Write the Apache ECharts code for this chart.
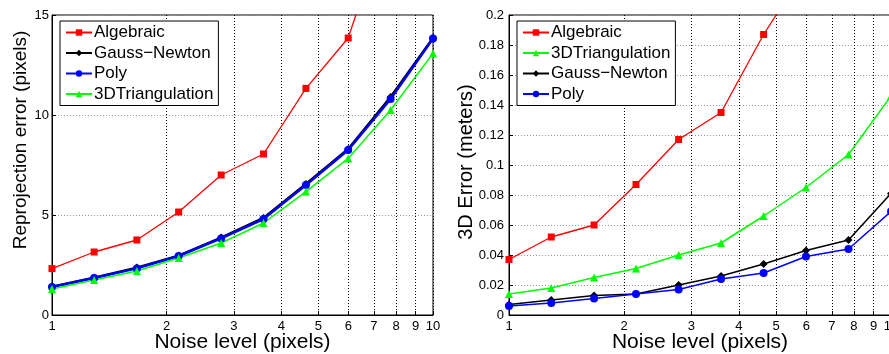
<!DOCTYPE html>
<html>
<head>
<meta charset="utf-8">
<title>Noise level vs error</title>
<script src="https://cdn.jsdelivr.net/npm/echarts@6/dist/echarts.min.js"></script>
<style>
  html, body { margin: 0; padding: 0; background: #fff; }
  #chart { width: 889px; height: 354px; }
</style>
</head>
<body>
<div id="chart"></div>
<script>
// noise levels (pixels), log spaced
const noise = [1, 1.29, 1.67, 2.15, 2.78, 3.59, 4.64, 5.99, 7.74, 10];
const xTicks = [1, 2, 3, 4, 5, 6, 7, 8, 9, 10];

// left: reprojection error (pixels)
const reprojAlgebraic = [2.32, 3.15, 3.75, 5.15, 7.0, 8.05, 11.33, 13.85, 20.2, 28];
const reprojGauss = [1.42, 1.87, 2.37, 2.97, 3.87, 4.85, 6.55, 8.3, 10.9, 13.85];
const reprojPoly = [1.4, 1.85, 2.33, 2.95, 3.83, 4.8, 6.5, 8.25, 10.8, 13.82];
const reprojTri = [1.3, 1.75, 2.2, 2.85, 3.6, 4.6, 6.17, 7.83, 10.25, 13.08];

// right: 3D error (meters)
const err3dAlgebraic = [0.037, 0.052, 0.06, 0.087, 0.117, 0.135, 0.187, 0.231, 0.3, 0.38];
const err3dTri = [0.014, 0.018, 0.025, 0.031, 0.04, 0.048, 0.066, 0.085, 0.107, 0.146];
const err3dGauss = [0.007, 0.01, 0.013, 0.014, 0.02, 0.026, 0.034, 0.043, 0.05, 0.081];
const err3dPoly = [0.006, 0.008, 0.011, 0.014, 0.017, 0.024, 0.028, 0.039, 0.044, 0.069];

const FONT = 'Liberation Sans, Arial, sans-serif';
const RED = '#ff0000';
const GREEN = '#00ff00';
const BLUE = '#0000ff';
const BLACK = '#000000';

const pairs = (ys) => noise.map((x, i) => [x, ys[i]]);

function xAxisFor(gridIndex) {
  return {
    type: 'log',
    logBase: 10,
    gridIndex,
    min: 1,
    max: 10,
    name: 'Noise level (pixels)',
    nameLocation: 'middle',
    nameGap: 17,
    nameMoveOverlap: false,
    nameTextStyle: { fontFamily: FONT, fontSize: 21, color: '#000' },
    axisLine: { onZero: false, lineStyle: { color: '#000', width: 1 } },
    axisTick: { inside: true, length: 4, customValues: xTicks, lineStyle: { color: '#000' } },
    axisLabel: { customValues: xTicks, margin: 5, fontFamily: FONT, fontSize: 13, color: '#000' },
    splitLine: { show: true, lineStyle: { color: '#000', type: [1, 2], width: 1 } },
    minorTick: { show: false }
  };
}

function yAxisFor(gridIndex, name, max, interval, nameGap, nameSize, labelMargin, namePadding) {
  return {
    type: 'value',
    gridIndex,
    min: 0,
    max,
    interval,
    name,
    nameLocation: 'middle',
    nameGap,
    nameMoveOverlap: false,
    nameTextStyle: { fontFamily: FONT, fontSize: nameSize, color: '#000', padding: namePadding },
    axisLine: { show: true, lineStyle: { color: '#000', width: 1 } },
    axisTick: { show: true, inside: true, length: 4, lineStyle: { color: '#000' } },
    axisLabel: { margin: labelMargin, fontFamily: FONT, fontSize: 13, color: '#000' },
    splitLine: { show: true, lineStyle: { color: '#999', type: [1, 2], width: 1 } }
  };
}

function line(name, data, color, symbol, size, width, idx) {
  return {
    type: 'line',
    name,
    data: pairs(data),
    xAxisIndex: idx,
    yAxisIndex: idx,
    symbol,
    symbolSize: size,
    showAllSymbol: true,
    clip: true,
    color,
    lineStyle: { color, width },
    itemStyle: { color },
    emphasis: { disabled: true },
    animation: false
  };
}

function legendAt(left, names) {
  return {
    orient: 'vertical',
    left,
    top: 21,
    data: names,
    backgroundColor: '#fff',
    borderColor: '#000',
    borderWidth: 1,
    borderRadius: 0,
    padding: [3, 5, 3, 5],
    itemGap: 3.5,
    itemWidth: 26,
    itemHeight: 8,
    selectedMode: false,
    textStyle: { fontFamily: FONT, fontSize: 17, color: '#000', padding: [0, 0, 0, -3] }
  };
}

const option = {
  animation: false,
  backgroundColor: '#fff',
  grid: [
    { left: 52, top: 15, width: 381, height: 300, outerBoundsMode: 'none', containLabel: false,
      show: true, borderColor: '#000', borderWidth: 1 },
    { left: 509, top: 15, width: 382, height: 300, outerBoundsMode: 'none', containLabel: false,
      show: true, borderColor: '#000', borderWidth: 1 }
  ],
  xAxis: [xAxisFor(0), xAxisFor(1)],
  yAxis: [
    yAxisFor(0, 'Reprojection error (pixels)', 15, 5, 22, 19, 3, [0, 0, 0, 50]),
    yAxisFor(1, '3D Error (meters)', 0.2, 0.02, 33, 20, 5, [0, 0, 0, 6])
  ],
  legend: [
    legendAt(60, ['Algebraic', 'Gauss\u2212Newton', 'Poly', '3DTriangulation']),
    legendAt(517, ['Algebraic', '3DTriangulation', 'Gauss\u2212Newton', 'Poly'])
  ],
  series: [
    line('Algebraic', reprojAlgebraic, RED, 'rect', 7, 1.3, 0),
    line('Gauss\u2212Newton', reprojGauss, BLACK, 'diamond', 8, 2.5, 0),
    line('Poly', reprojPoly, BLUE, 'circle', 8, 2.5, 0),
    line('3DTriangulation', reprojTri, GREEN, 'triangle', 8, 1.5, 0),

    line('Algebraic', err3dAlgebraic, RED, 'rect', 7, 1.3, 1),
    line('3DTriangulation', err3dTri, GREEN, 'triangle', 8, 1.5, 1),
    line('Gauss\u2212Newton', err3dGauss, BLACK, 'diamond', 8, 1.5, 1),
    line('Poly', err3dPoly, BLUE, 'circle', 8, 1.5, 1)
  ]
};

const chart = echarts.init(document.getElementById('chart'), null, { renderer: 'canvas' });
chart.setOption(option);
</script>
</body>
</html>
